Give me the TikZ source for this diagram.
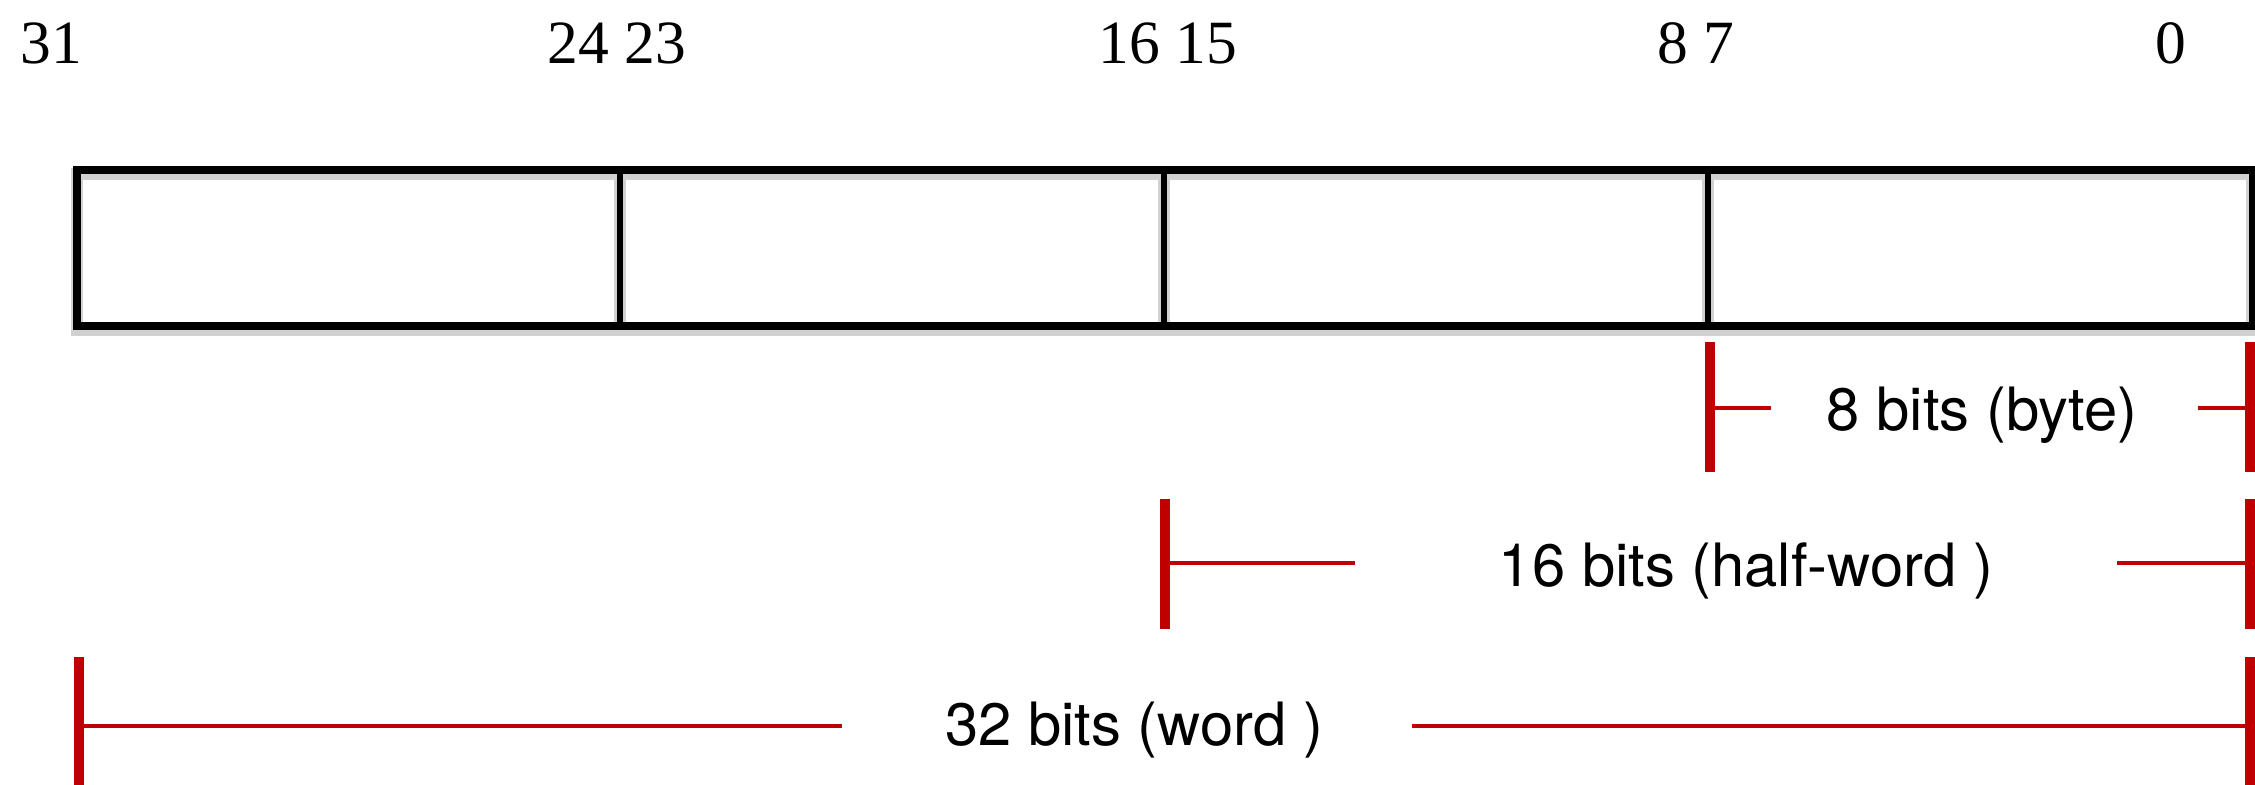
\documentclass[tikz,border=0pt]{standalone}
\usepackage{fontspec}
\setmainfont{Liberation Serif}
\newfontfamily\labelfont{TeX Gyre Heros}
\usepackage{tikz}
\usetikzlibrary{positioning,calc}
\definecolor{spanred}{RGB}{192,0,0}
\tikzstyle{outer} = [draw=black, line width=2pt]
\tikzstyle{divider} = [draw=black, line width=1.9pt]
\tikzstyle{shade} = [draw=black!18, line width=3.6pt]
\tikzstyle{bitnum} = [inner sep=0pt, anchor=base, font=\fontsize{17.5}{20}\selectfont]
\tikzstyle{spanlabel} = [inner sep=0pt, anchor=base, font=\labelfont\fontsize{17}{20}\selectfont]
\tikzstyle{bar} = [draw=spanred, line width=2.85pt]
\tikzstyle{span} = [draw=spanred, line width=1.4pt]

\begin{document}
\begin{tikzpicture}[x=0.1mm, y=-0.1mm]
    \useasboundingbox (0,0) rectangle (2255,784);
    % soft shadow of the register
    \draw[shade] (77,174) rectangle (2252,330);
    \draw[shade] (620,174) -- (620,330);
    \draw[shade] (1164,174) -- (1164,330);
    \draw[shade] (1708,174) -- (1708,330);
    % register
    \draw[outer] (77,170) rectangle (2252,326);
    \draw[divider] (620,170) -- (620,326);
    \draw[divider] (1164,170) -- (1164,326);
    \draw[divider] (1708,170) -- (1708,326);
    % bit numbers
    \node[bitnum] (n31) at (51,63) {31};
    \node[bitnum] (n2423) at (617,63) {24 23};
    \node[bitnum] (n1615) at (1168,63) {16 15};
    \node[bitnum] (n87) at (1696,63) {8 7};
    \node[bitnum] (n0) at (2171,63) {0};
    % byte
    \draw[bar] (1710,342) -- (1710,472);
    \draw[bar] (2250,342) -- (2250,472);
    \node[spanlabel] (byte) at (1982,430) {8 bits (byte)};
    \draw[span] (1710,408) -- (1771,408);
    \draw[span] (2198,408) -- (2250,408);
    % half-word
    \draw[bar] (1165,499) -- (1165,629);
    \draw[bar] (2250,499) -- (2250,629);
    \node[spanlabel] (half) at (1746,586) {16 bits (half-word )};
    \draw[span] (1165,563) -- (1355,563);
    \draw[span] (2117,563) -- (2250,563);
    % word
    \draw[bar] (79,657) -- (79,790);
    \draw[bar] (2250,657) -- (2250,790);
    \node[spanlabel] (word) at (1134,745) {32 bits (word )};
    \draw[span] (79,726) -- (842,726);
    \draw[span] (1412,726) -- (2250,726);
\end{tikzpicture}
\end{document}
